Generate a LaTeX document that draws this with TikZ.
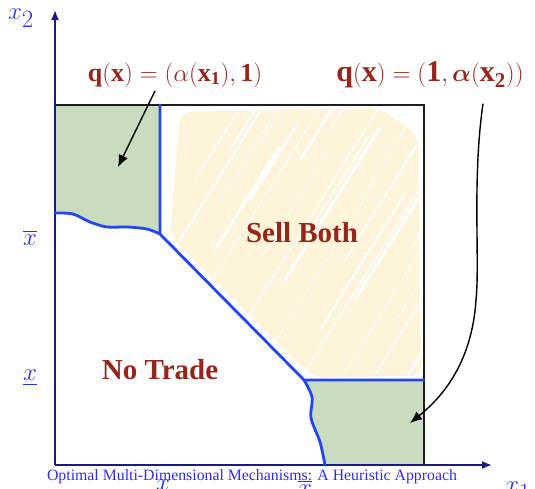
\documentclass[tikz,border=0pt]{standalone}
\usepackage{amsmath}
\usepackage{fontspec}
\setmainfont{Liberation Serif}
\usetikzlibrary{arrows.meta,positioning}
\definecolor{axisblue}{RGB}{25,25,135}
\definecolor{edgeblue}{RGB}{35,70,240}
\definecolor{labelblue}{RGB}{45,45,235}
\definecolor{meadow}{RGB}{201,220,191}
\definecolor{cream}{RGB}{253,244,217}
\definecolor{rust}{RGB}{150,38,28}
\definecolor{ink}{RGB}{30,30,30}
\tikzset{
  axis/.style={draw=axisblue,line width=1.6pt,-{Latex[length=10pt,width=8pt]}},
  border/.style={draw=ink,line width=1.4pt},
  cut/.style={draw=edgeblue,line width=2.8pt,line join=round,line cap=round},
  region/.style={font=\fontsize{29}{32}\selectfont\bfseries,text=rust},
  mech/.style={text=rust,font=\fontsize{#1}{#1}\selectfont},
  mech/.default=22,
  tick/.style={text=labelblue,font=\fontsize{33}{35}\selectfont},
  pointer/.style={draw=black,line width=1.4pt,-{Latex[length=12pt,width=10pt]}},
  streak/.style={draw=white,line width=#1,line cap=round},
  streak/.default=2pt,
}

\begin{document}
\begin{tikzpicture}[x=1pt,y=-1pt]
  \useasboundingbox (0,0) rectangle (535,488);
  % traded regions
  \fill[meadow] (55,105) -- (160,105) -- (160,234) -- plot[smooth] coordinates {(160,234) (147,229) (127,227) (107,227) (90,222) (73,214) (55,213)} -- cycle;
  \fill[meadow] (304,380) -- (424,380) -- (424,465) -- (325,465) -- plot[smooth] coordinates {(325,465) (320,442) (311,418) (312,397) (304,380)} -- cycle;
  % sell both, scribbled
  \begin{scope}
    \clip (160,105) -- (424,105) -- (424,380) -- (304,380) -- (160,234) -- cycle;
    \fill[cream,rounded corners=12pt] (180,112) -- (380,108) -- (418,135) -- (421,376) -- (312,377) -- (170,236) -- cycle;
    \foreach \x/\y/\l/\w in {180/240/150/2,200/300/220/1.2,215/250/120/3,240/330/260/1.5,250/200/90/2.5,
      270/350/200/1,285/280/180/3,300/380/250/1.5,320/330/160/2.2,340/380/300/1.2,355/300/150/3,
      375/375/240/1.8,390/330/200/1,405/380/180/2.5,195/180/80/1.5,230/150/60/2,262/140/50/1.2,
      300/160/80/2.8,330/130/40/1.5,410/250/150/2,220/200/100/1,310/230/110/1.5,360/200/120/1,
      395/180/90/2.2,260/260/130/1,345/260/100/1.8}
      \draw[streak=\w pt] (\x,\y) -- ++(0.53*\l,-0.85*\l);
  \end{scope}
  % axes and box
  \coordinate (o) at (55,465);
  \coordinate (ytop) at (55,10);
  \coordinate (xend) at (492,465);
  \draw[axis] (o) -- (ytop);
  \draw[axis] (o) -- (xend);
  \draw[border] (55,105) -- (424,105) -- (424,465);
  % boundaries
  \draw[cut] (160,105) -- (160,234) -- (304,380) -- (424,380);
  \draw[cut] plot[smooth] coordinates {(55,213) (73,214) (90,222) (107,227) (127,227) (147,229) (160,234)};
  \draw[cut] plot[smooth] coordinates {(304,380) (312,397) (311,418) (320,442) (325,465)};
  % labels
  \node[region] (sell) at (302,233) {Sell Both};
  \node[region] (notrade) at (160,370) {No Trade};
  \node[mech=26] (ql) at (175,75) {$\mathbf{q}(\mathbf{x}) = (\alpha(\mathbf{x_1}),\mathbf{1})$};
  \node[mech=30] (qr) at (430,75) {$\mathbf{q}(\mathbf{x}) = (\mathbf{1},\boldsymbol{\alpha}(\mathbf{x_2}))$};
  \node[tick] (xtwo) at (21,18) {$x_2$};
  \node[tick] (xhi) at (30,238) {$\overline{x}$};
  \node[tick] (xlo) at (30,378) {$\underline{x}$};
  \node[tick] (xlob) at (163,488) {$\underline{x}$};
  \node[tick] (xhib) at (305,488) {$\overline{x}$};
  \node[tick] (xone) at (518,491) {$x_1$};
  \node[anchor=base west,font=\fontsize{30}{32}\selectfont] (head) at (-2,-0.5) {ve mechanism:};
  \node[text=labelblue,font=\fontsize{15.8}{17}\selectfont] (foot) at (252,477) {Optimal Multi-Dimensional Mechanisms: A Heuristic Approach};
  % pointers
  \coordinate (tipl) at (118,167);
  \coordinate (tipr) at (410,423);
  \draw[pointer] ([xshift=-20pt]ql.south) -- (tipl);
  \draw[pointer] ([xshift=53pt,yshift=-12pt]qr.south) .. controls (472,180) and (480,260) .. (476,300) .. controls (472,360) and (445,395) .. (tipr);
\end{tikzpicture}
\end{document}
